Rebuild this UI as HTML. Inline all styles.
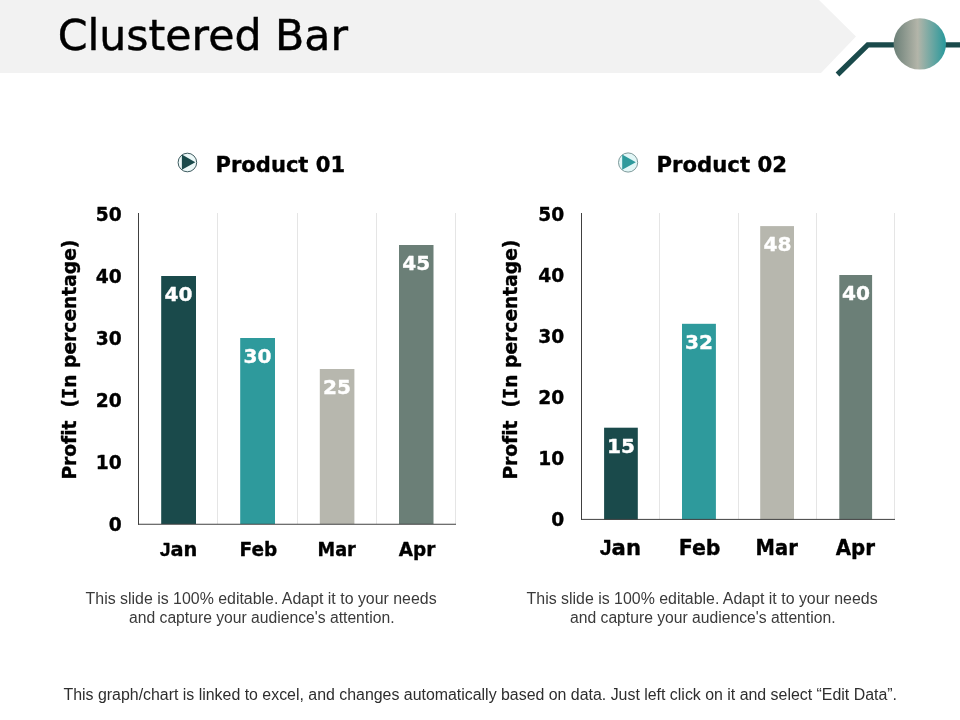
<!DOCTYPE html>
<html><head><meta charset="utf-8"><title>Clustered Bar</title>
<style>
html,body{margin:0;padding:0;background:#fff;}
body{width:960px;height:720px;overflow:hidden;position:relative;}
svg{position:absolute;left:0;top:0;display:block;}
.v{font-family:"DejaVu Sans","Liberation Sans",sans-serif;}
.vb{font-family:"DejaVu Sans","Liberation Sans",sans-serif;font-weight:bold;font-variant-ligatures:none;stroke-width:0.35px;stroke-linejoin:round;}
.k{stroke:#000;}
.w{stroke:#fff;}
.a{font-family:"Liberation Sans",sans-serif;}
.m{font-family:"DejaVu Sans Mono","Liberation Mono",monospace;}
</style></head><body>
<svg width="960" height="720" viewBox="0 0 960 720">
<defs>
<linearGradient id="cg" x1="0" y1="0" x2="1" y2="0">
<stop offset="0" stop-color="#6b7f77"/><stop offset="0.46" stop-color="#b3b5a9"/><stop offset="0.97" stop-color="#2f9a9c"/><stop offset="1" stop-color="#2f9a9c"/>
</linearGradient>
</defs>
<rect width="960" height="720" fill="#ffffff"/>
<!-- header -->
<polygon points="0,0 819,0 856,36.5 821,73 0,73" fill="#f2f2f2"/>
<polyline points="837.5,74.5 867.8,44.8 960,44.8" fill="none" stroke="#1a4a4b" stroke-width="5.3"/>
<ellipse cx="919.8" cy="43.9" rx="26.2" ry="25.7" fill="url(#cg)"/>
<text class="v" x="57.7" y="50.2" font-size="42.67" fill="#000" stroke="#000" stroke-width="0.45">Clustered Bar</text>

<!-- legends -->
<g>
<circle cx="187.4" cy="162.5" r="9.3" fill="#ecf8f8" stroke="#2a4a4e" stroke-width="0.9"/>
<polygon points="181.9,154.5 181.9,169.8 195.3,162.2" fill="#1a4a4b"/>
<text class="vb k" x="215.5" y="171.7" font-size="21.33" textLength="129.6" lengthAdjust="spacingAndGlyphs" fill="#000">Product 01</text>
</g>
<g>
<circle cx="628.1" cy="162.5" r="9.6" fill="#e2f7f7" stroke="#5f8082" stroke-width="0.8"/>
<polygon points="622.2,154.5 622.2,169.8 635.8,162.2" fill="#2e9a9c"/>
<text class="vb k" x="656.5" y="171.7" font-size="21.33" textLength="130.5" lengthAdjust="spacingAndGlyphs" fill="#000">Product 02</text>
</g>

<!-- chart 1 -->
<g id="c1">
<g stroke="#e5e5e5" stroke-width="1">
<line x1="217.5" y1="213" x2="217.5" y2="524"/><line x1="297.5" y1="213" x2="297.5" y2="524"/><line x1="376.5" y1="213" x2="376.5" y2="524"/><line x1="455.5" y1="213" x2="455.5" y2="524"/>
</g>
<rect x="161.2" y="276" width="34.8" height="248" fill="#1a4a4b"/>
<rect x="240.2" y="338" width="34.8" height="186" fill="#2e9a9c"/>
<rect x="319.8" y="369" width="34.6" height="155" fill="#b7b7ae"/>
<rect x="399" y="245" width="34.5" height="279" fill="#6b7f77"/>
<line x1="138.5" y1="213" x2="138.5" y2="524.75" stroke="#404040" stroke-width="1"/>
<line x1="138" y1="524.25" x2="456" y2="524.25" stroke="#404040" stroke-width="1"/>
<g class="vb k" font-size="18.67" fill="#000" text-anchor="end">
<text x="121.7" y="220.6">50</text><text x="121.7" y="282.7">40</text><text x="121.7" y="344.8">30</text><text x="121.7" y="406.8">20</text><text x="121.7" y="468.9">10</text><text x="121.7" y="530.6">0</text>
</g>
<g class="vb w" font-size="18.67" fill="#fff" text-anchor="middle">
<text x="178.6" y="300.7" textLength="28" lengthAdjust="spacingAndGlyphs">40</text><text x="257.6" y="362.7" textLength="28" lengthAdjust="spacingAndGlyphs">30</text><text x="337" y="393.7" textLength="28" lengthAdjust="spacingAndGlyphs">25</text><text x="416.2" y="269.8" textLength="28" lengthAdjust="spacingAndGlyphs">45</text>
</g>
<g class="vb k" font-size="18.67" fill="#000" text-anchor="middle">
<text x="178.5" y="555.9" textLength="37.6" lengthAdjust="spacingAndGlyphs"><tspan class="a" font-weight="bold">J</tspan>an</text><text x="258.4" y="555.9" textLength="37.6" lengthAdjust="spacingAndGlyphs">Feb</text><text x="336.7" y="555.9" textLength="38.3" lengthAdjust="spacingAndGlyphs">Mar</text><text x="417" y="555.9" textLength="36.6" lengthAdjust="spacingAndGlyphs">Apr</text>
</g>
<text class="vb k" font-size="18.67" fill="#000" transform="translate(76.2,479.6) rotate(-90)" textLength="240" lengthAdjust="spacingAndGlyphs" xml:space="preserve" style="white-space:pre">Profit  (<tspan class="m">I</tspan>n percentage)</text>
</g>

<!-- chart 2 -->
<g id="c2">
<g stroke="#e5e5e5" stroke-width="1">
<line x1="659.5" y1="213" x2="659.5" y2="519"/><line x1="738.5" y1="213" x2="738.5" y2="519"/><line x1="816.5" y1="213" x2="816.5" y2="519"/><line x1="894.5" y1="213" x2="894.5" y2="519"/>
</g>
<rect x="604.1" y="427.7" width="33.7" height="92" fill="#1a4a4b"/>
<rect x="682" y="323.8" width="33.9" height="196" fill="#2e9a9c"/>
<rect x="760.2" y="226.1" width="33.8" height="293.5" fill="#b7b7ae"/>
<rect x="839.3" y="275" width="32.8" height="244.5" fill="#6b7f77"/>
<line x1="581.5" y1="213" x2="581.5" y2="519.9" stroke="#404040" stroke-width="1"/>
<line x1="581" y1="519.4" x2="895" y2="519.4" stroke="#404040" stroke-width="1"/>
<g class="vb k" font-size="18.67" fill="#000" text-anchor="end">
<text x="564.3" y="220.6">50</text><text x="564.3" y="281.7">40</text><text x="564.3" y="342.8">30</text><text x="564.3" y="403.9">20</text><text x="564.3" y="465">10</text><text x="564.3" y="525.8">0</text>
</g>
<g class="vb w" font-size="18.67" fill="#fff" text-anchor="middle">
<text x="621" y="452.5" textLength="28" lengthAdjust="spacingAndGlyphs">15</text><text x="699.1" y="348.7" textLength="28" lengthAdjust="spacingAndGlyphs">32</text><text x="777.4" y="250.9" textLength="28" lengthAdjust="spacingAndGlyphs">48</text><text x="856.1" y="299.8" textLength="28" lengthAdjust="spacingAndGlyphs">40</text>
</g>
<g class="vb k" font-size="21.33" fill="#000" text-anchor="middle">
<text x="620.4" y="554.75" textLength="41.2" lengthAdjust="spacingAndGlyphs"><tspan class="a" font-weight="bold">J</tspan>an</text><text x="699.6" y="554.75" textLength="41.8" lengthAdjust="spacingAndGlyphs">Feb</text><text x="776.7" y="554.75" textLength="42.2" lengthAdjust="spacingAndGlyphs">Mar</text><text x="855.3" y="554.75" textLength="39.3" lengthAdjust="spacingAndGlyphs">Apr</text>
</g>
<text class="vb k" font-size="18.67" fill="#000" transform="translate(517.4,479.6) rotate(-90)" textLength="240" lengthAdjust="spacingAndGlyphs" xml:space="preserve" style="white-space:pre">Profit  (<tspan class="m">I</tspan>n percentage)</text>
</g>

<!-- captions -->
<g class="a" font-size="16" fill="#3a3a3a">
<text x="85.6" y="603.6" textLength="351" lengthAdjust="spacingAndGlyphs">This slide is 100% editable. Adapt it to your needs</text>
<text x="129" y="622.9" textLength="265.5" lengthAdjust="spacingAndGlyphs">and capture your audience's attention.</text>
<text x="526.6" y="603.6" textLength="351" lengthAdjust="spacingAndGlyphs">This slide is 100% editable. Adapt it to your needs</text>
<text x="570" y="622.9" textLength="265.5" lengthAdjust="spacingAndGlyphs">and capture your audience's attention.</text>
</g>
<text class="a" font-size="16" fill="#2e2e2e" x="63.5" y="699.6" textLength="833.5" lengthAdjust="spacingAndGlyphs">This graph/chart is linked to excel, and changes automatically based on data. Just left click on it and select “Edit Data”.</text>
</svg>
</body></html>
